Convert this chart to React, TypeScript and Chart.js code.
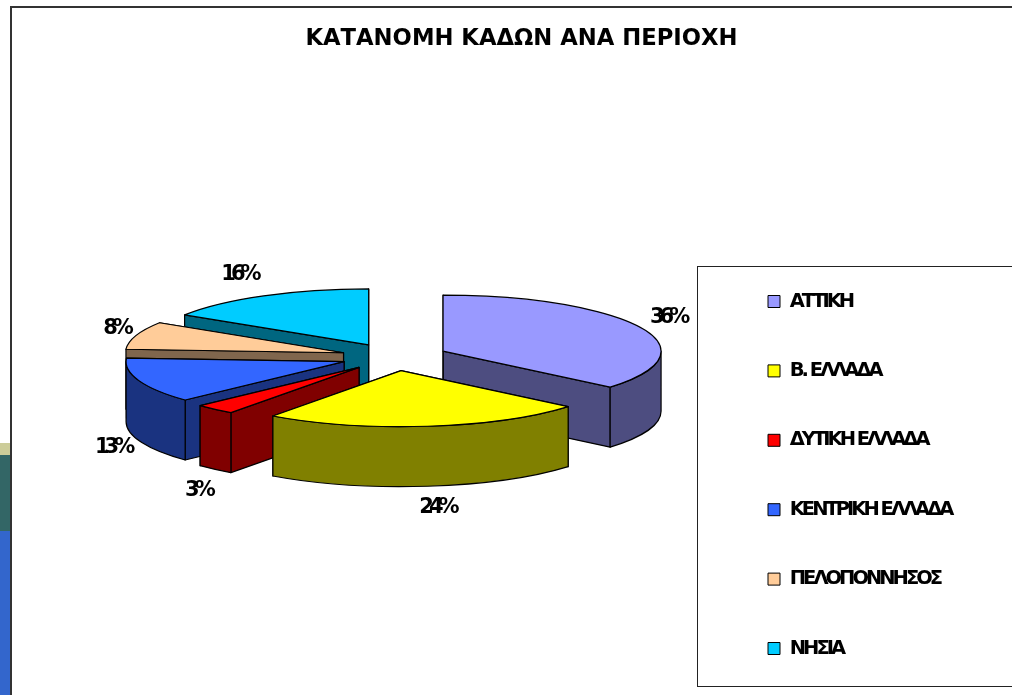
import React, { useEffect, useRef } from "react";
import { Chart, registerables } from "chart.js";

Chart.register(...registerables);

const chartTitle = "ΚΑΤΑΝΟΜΗ ΚΑΔΩΝ ΑΝΑ ΠΕΡΙΟΧΗ";
const regions = ["ΑΤΤΙΚΗ", "Β. ΕΛΛΑΔΑ", "ΔΥΤΙΚΗ ΕΛΛΑΔΑ", "ΚΕΝΤΡΙΚΗ ΕΛΛΑΔΑ", "ΠΕΛΟΠΟΝΝΗΣΟΣ", "ΝΗΣΙΑ"];
const shares = [36.1, 23.9, 3, 13, 8, 16];
const topColors = ["#9999FF", "#FFFF00", "#FF0000", "#3366FF", "#FFCC99", "#00CCFF"];
const wallColors = ["#4D4D80", "#808000", "#800000", "#1A3380", "#80664D", "#006680"];
const labelNudgeX = [3, 6, 0.5, -1.5, 5, -12];
const labelNudgeY = [-7, 15, 16, 5, -5, -15];

const TILT = 0.2569;
const DEPTH = 60;
const EXPLODE = 53.6;
const LABEL_RADIUS = 298;
const LINE = "#000";

const pie3d = {
  id: "pie3d",
  beforeDraw(chart: any) {
    const ctx = chart.ctx;
    ctx.save();
    ctx.fillStyle = "#fff";
    ctx.fillRect(11, 7, chart.width, chart.height);
    ctx.strokeStyle = "#333";
    ctx.lineWidth = 2;
    ctx.strokeRect(11, 7, chart.width + 20, chart.height + 20);
    ctx.lineWidth = 1;
    ctx.strokeStyle = "#222";
    ctx.strokeRect(697.5, 266.5, chart.width, 420);
    ctx.restore();
  },
  afterLayout(chart: any) {
    const t = chart.titleBlock;
    t.left = 31;
    t.right = 1012;
    t.top = 25.4;
    t.bottom = t.top + t.height;
    const l = chart.legend;
    l.maxHeight = 640;
    l.maxWidth = 400;
    l.fit();
    l.left = 718.1;
    l.right = l.left + l.width;
    l.top = 241.85;
    l.bottom = l.top + l.height;
    l.adjustHitBoxes();
    if (!l.__wrapped) {
      const draw = l.draw.bind(l);
      l.draw = () => {
        chart.ctx.letterSpacing = "-3px";
        draw();
        chart.ctx.letterSpacing = "0px";
      };
      l.__wrapped = true;
    }
  },
  beforeDatasetsDraw(chart: any) {
    const ctx = chart.ctx;
    const arcs = chart.getDatasetMeta(0).data as any[];
    const total = shares.reduce((a, b) => a + b, 0);
    const slices = arcs.map((arc, i) => {
      const mid = (arc.startAngle + arc.endAngle) / 2;
      return {
        i,
        arc,
        mid,
        R: arc.outerRadius,
        ax: arc.x + EXPLODE * Math.cos(mid),
        ay: arc.y + EXPLODE * Math.sin(mid) * TILT,
      };
    });
    const order = [...slices].sort((p, q) => p.ay - q.ay);
    ctx.save();
    ctx.lineJoin = "round";
    ctx.strokeStyle = LINE;
    ctx.lineWidth = 1.2;
    const paint = (fill: string) => {
      ctx.fillStyle = fill;
      ctx.fill();
      ctx.stroke();
    };
    for (const s of order) {
      const { arc, ax, ay, R, i } = s;
      for (const a of [arc.endAngle, arc.startAngle]) {
        const ox = ax + R * Math.cos(a);
        const oy = ay + R * Math.sin(a) * TILT;
        ctx.beginPath();
        ctx.moveTo(ax, ay);
        ctx.lineTo(ox, oy);
        ctx.lineTo(ox, oy + DEPTH);
        ctx.lineTo(ax, ay + DEPTH);
        ctx.closePath();
        paint(wallColors[i]);
      }
      const a1 = Math.max(arc.startAngle, 0);
      const a2 = Math.min(arc.endAngle, Math.PI);
      if (a2 > a1) {
        ctx.beginPath();
        ctx.ellipse(ax, ay, R, R * TILT, 0, a1, a2);
        ctx.ellipse(ax, ay + DEPTH, R, R * TILT, 0, a2, a1, true);
        ctx.closePath();
        paint(wallColors[i]);
      }
      ctx.beginPath();
      ctx.moveTo(ax, ay);
      ctx.ellipse(ax, ay, R, R * TILT, 0, arc.startAngle, arc.endAngle);
      ctx.closePath();
      paint(topColors[i]);
    }
    ctx.fillStyle = "#000";
    ctx.font = "bold 21px 'DejaVu Sans'";
    ctx.textAlign = "center";
    ctx.textBaseline = "middle";
    ctx.letterSpacing = "-5px";
    for (const s of slices) {
      const sin = Math.sin(s.mid);
      const x = s.arc.x + LABEL_RADIUS * Math.cos(s.mid) + labelNudgeX[s.i];
      const y = s.arc.y + LABEL_RADIUS * sin * TILT + (sin > 0 ? DEPTH : 0) + labelNudgeY[s.i];
      ctx.fillText(Math.round((shares[s.i] / total) * 100) + "%", x, y);
    }
    ctx.letterSpacing = "0px";
    ctx.restore();
    return false;
  },
};

export default function App() {
  const ref = useRef<HTMLCanvasElement>(null);
  useEffect(() => {
    const base = (Chart as any).overrides.pie.plugins.legend.labels.generateLabels;
    const chart = new Chart(ref.current as HTMLCanvasElement, {
      type: "pie",
      data: {
        labels: regions,
        datasets: [{ data: shares, backgroundColor: topColors, borderWidth: 0 }],
      },
      options: {
        responsive: false,
        animation: false,
        events: [],
        layout: { padding: { left: 176.5, right: 399.5, top: 111.76, bottom: 120 } },
        plugins: {
          tooltip: { enabled: false },
          title: {
            display: true,
            text: chartTitle,
            color: "#000",
            padding: 0,
            font: { family: "'DejaVu Sans'", size: 22.7, weight: "bold" },
          },
          legend: {
            display: true,
            position: "chartArea",
            align: "start",
            labels: {
              boxWidth: 12,
              boxHeight: 12,
              padding: 49.9,
              color: "#000",
              font: { family: "'DejaVu Sans'", size: 19.5, weight: "bold" },
              generateLabels: (c: any) =>
                base(c).map((it: any) => ({
                  ...it,
                  lineWidth: 1,
                  strokeStyle: "#000",
                  lineJoin: "miter",
                  lineCap: "butt",
                })),
            },
          },
        },
      },
      plugins: [pie3d],
    } as any);
    return () => chart.destroy();
  }, []);
  return (
    <div style={{ position: "fixed", inset: 0, background: "#fff", overflow: "hidden" }}>
      <div style={{ position: "absolute", left: 0, top: 443, width: 11, height: 12, background: "#CCCC99" }} />
      <div style={{ position: "absolute", left: 0, top: 455, width: 11, height: 76, background: "#336666" }} />
      <div style={{ position: "absolute", left: 0, top: 531, width: 11, height: 164, background: "#3366CC" }} />
      <canvas ref={ref} width={1012} height={695} style={{ position: "absolute", left: 0, top: 0, display: "block" }} />
    </div>
  );
}
